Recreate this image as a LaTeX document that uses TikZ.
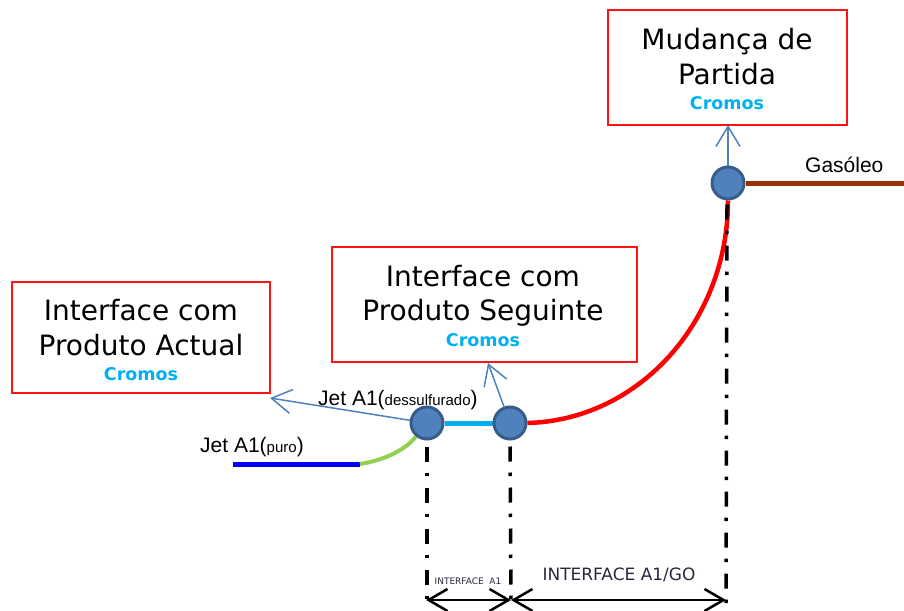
\documentclass[tikz,border=0pt]{standalone}
\usepackage{fontspec}
\setmainfont{DejaVu Sans}
\newfontfamily\arialf{Liberation Sans}
\usetikzlibrary{arrows.meta}
\pgfdeclarelayer{bg}
\pgfsetlayers{bg,main}
\definecolor{boxred}{RGB}{255,20,20}
\definecolor{cromos}{RGB}{0,176,240}
\definecolor{ptfill}{RGB}{79,129,189}
\definecolor{ptdraw}{RGB}{56,92,138}
\definecolor{arrblue}{RGB}{79,129,189}
\definecolor{jetblue}{RGB}{0,0,255}
\definecolor{jetgreen}{RGB}{146,208,80}
\definecolor{brown}{RGB}{153,51,0}
\definecolor{dimtext}{RGB}{40,40,60}
\tikzset{
  infobox/.style={draw=boxred, line width=1.2pt, fill=white, inner sep=0pt},
  boxline/.style={anchor=base, inner sep=0pt, font=\fontsize{28}{32}\selectfont},
  cromostxt/.style={anchor=base, inner sep=0pt, text=cromos, font=\fontsize{17.5}{20}\selectfont\bfseries},
  pt/.style={circle, fill=ptfill, draw=ptdraw, line width=3pt, minimum size=32pt, inner sep=0pt},
  callout/.style={draw=arrblue, line width=1.5pt, -{Straight Barb[length=20pt,width=24pt,line width=1.5pt]}},
  dashdot/.style={line width=3.5pt, dash pattern=on 15pt off 11pt on 3.5pt off 11.5pt},
  dim/.style={line width=2.5pt, {Straight Barb[length=19pt,width=22pt,line width=2.5pt]}-{Straight Barb[length=19pt,width=22pt,line width=2.5pt]}},
  jetlbl/.style={anchor=base west, inner sep=0pt, font=\arialf\fontsize{21}{24}\selectfont},
}
\begin{document}
\begin{tikzpicture}[x=1pt,y=-1pt]
\useasboundingbox (0,0) rectangle (904,610);

% boxes
\node[infobox, minimum width=258pt, minimum height=111pt] (boxA) at (141,337.5) {};
\node[boxline] (boxAl1) at (141,320) {Interface com};
\node[boxline] (boxAl2) at (141,355) {Produto Actual};
\node[cromostxt] (boxAc) at (141,380) {Cromos};

\node[infobox, minimum width=305pt, minimum height=115pt] (boxB) at (484.5,304.5) {};
\node[boxline] (boxBl1) at (483,286) {Interface com};
\node[boxline] (boxBl2) at (483,320) {Produto Seguinte};
\node[cromostxt] (boxBc) at (483,346) {Cromos};

\node[infobox, minimum width=239pt, minimum height=115pt] (boxC) at (727.5,67.5) {};
\node[boxline] (boxCl1) at (727,50) {Mudança de};
\node[boxline] (boxCl2) at (727,84) {Partida};
\node[cromostxt] (boxCc) at (727,109) {Cromos};

% points
\node[pt] (c1) at (427,423) {};
\node[pt] (c2) at (510,423) {};
\node[pt] (c3) at (728,183) {};

\coordinate (bl0) at (233,464);
\coordinate (bl1) at (360,464);
\coordinate (gend) at (904,183);
\coordinate (a1) at (270,398);
\coordinate (a2) at (488,363);
\coordinate (a3) at (728,125);

\begin{pgfonlayer}{bg}
  \draw[jetblue, line width=5pt] (bl0) -- (bl1);
  \draw[jetgreen, line width=4pt] (bl1) .. controls (385,460) and (405,450) .. (c1);
  \draw[cromos, line width=5pt] (c1) -- (c2);
  \draw[red, line width=4.5pt] (c2.east) .. controls (640,420) and (728,320) .. (c3.south);
  \draw[brown, line width=5pt] (c3) -- (gend);
  \draw[callout] (c1) -- (a1);
  \draw[callout] (c2) -- (a2);
  \draw[callout] (c3) -- (a3);
\end{pgfonlayer}

% dash-dot verticals
\coordinate (d1) at (427,605);
\coordinate (d2) at (511,605);
\coordinate (d3) at (726,605);
\draw[dashdot] (c1.south) ++(0,6) -- (d1);
\draw[dashdot] (c2.south) ++(0,6) -- (d2);
\draw[dashdot] (c3.south) ++(-1,4) -- (d3);

% dimension arrows
\coordinate (m1) at (426,600);
\coordinate (m2) at (511,600);
\coordinate (m3) at (726,600);
\draw[dim] (m1) -- (m2);
\draw[dim] (m2) -- (m3);

% labels
\node[jetlbl] (jetdes) at (318,405) {Jet A1({\fontsize{15}{18}\selectfont dessulfurado})};
\node[jetlbl] (jetpuro) at (200,452) {Jet A1({\fontsize{15}{18}\selectfont puro})};
\node[jetlbl] (gaso) at (805,172) {Gasóleo};
\node[anchor=base, inner sep=0pt, text=dimtext, font=\fontsize{9}{10}\selectfont] (ia1) at (468,584) {INTERFACE\ \ A1};
\node[anchor=base, inner sep=0pt, text=dimtext, font=\fontsize{17}{20}\selectfont] (ia1go) at (619,580) {INTERFACE A1/GO};
\end{tikzpicture}
\end{document}
